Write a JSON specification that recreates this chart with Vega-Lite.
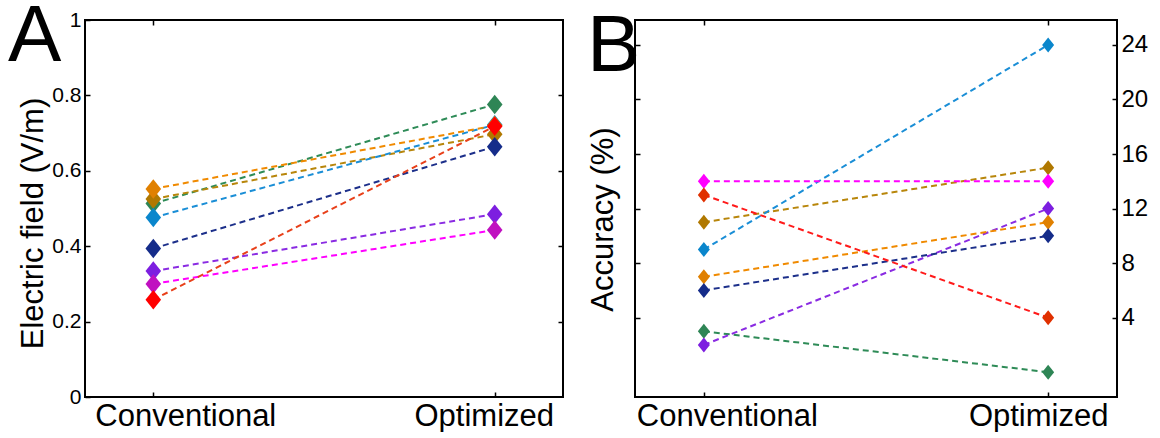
{
  "$schema": "https://vega.github.io/schema/vega-lite/v6.json",
  "background": "white",
  "padding": {"left": 7, "top": -4, "right": 0, "bottom": 0},
  "spacing": 21,
  "config": {
    "font": "Liberation Sans",
    "view": {"stroke": "black", "strokeWidth": 2},
    "axis": {
      "domain": false, "grid": false, "tickColor": "black", "tickWidth": 1.5, "tickSize": -5,
      "labelColor": "black", "titleColor": "black", "labelFont": "Liberation Sans",
      "titleFont": "Liberation Sans", "titleFontWeight": "normal", "labelFlush": false, "labelOverlap": false, "labelLimit": 400
    }
  },
  "datasets": {
    "a": [
      {"series": "S1", "condition": "Conventional", "value": 0.513},
      {"series": "S1", "condition": "Optimized", "value": 0.776},
      {"series": "S3", "condition": "Conventional", "value": 0.525},
      {"series": "S3", "condition": "Optimized", "value": 0.697},
      {"series": "S4", "condition": "Conventional", "value": 0.476},
      {"series": "S4", "condition": "Optimized", "value": 0.722},
      {"series": "S2", "condition": "Conventional", "value": 0.552},
      {"series": "S2", "condition": "Optimized", "value": 0.72},
      {"series": "S5", "condition": "Conventional", "value": 0.394},
      {"series": "S5", "condition": "Optimized", "value": 0.664},
      {"series": "S6", "condition": "Conventional", "value": 0.334},
      {"series": "S6", "condition": "Optimized", "value": 0.485},
      {"series": "S7", "condition": "Conventional", "value": 0.3},
      {"series": "S7", "condition": "Optimized", "value": 0.443},
      {"series": "S8", "condition": "Conventional", "value": 0.258},
      {"series": "S8", "condition": "Optimized", "value": 0.718}
    ],
    "b": [
      {"series": "S1", "condition": "Conventional", "value": 3},
      {"series": "S1", "condition": "Optimized", "value": 0},
      {"series": "S3", "condition": "Conventional", "value": 11},
      {"series": "S3", "condition": "Optimized", "value": 15},
      {"series": "S4", "condition": "Conventional", "value": 9},
      {"series": "S4", "condition": "Optimized", "value": 24},
      {"series": "S6", "condition": "Conventional", "value": 2},
      {"series": "S6", "condition": "Optimized", "value": 12},
      {"series": "S2", "condition": "Conventional", "value": 7},
      {"series": "S2", "condition": "Optimized", "value": 11},
      {"series": "S5", "condition": "Conventional", "value": 6},
      {"series": "S5", "condition": "Optimized", "value": 10},
      {"series": "S7", "condition": "Conventional", "value": 14},
      {"series": "S7", "condition": "Optimized", "value": 14},
      {"series": "S8", "condition": "Conventional", "value": 13},
      {"series": "S8", "condition": "Optimized", "value": 4}
    ]
  },
  "hconcat": [
    {
      "width": 478,
      "height": 377,
      "title": {"text": "A", "fontSize": 80, "fontWeight": "normal", "anchor": "start", "frame": "group", "baseline": "alphabetic", "offset": 0, "dx": -77, "dy": 132, "color": "black", "font": "Liberation Sans"},
      "data": {"name": "a"},
      "layer": [
        {
          "mark": {"type": "line", "strokeDash": [6, 4], "strokeWidth": 2},
          "encoding": {
            "x": {"field": "condition", "type": "ordinal", "scale": {"type": "point", "padding": 0.2, "domain": ["Conventional", "Optimized"]},
              "axis": {"orient": "bottom", "title": null, "labelAngle": 0, "labelFontSize": 31, "labelPadding": 9,
                "labelOffset": {"condition": {"test": "datum.value === 'Conventional'", "value": 32}, "value": -11}}},
            "y": {"field": "value", "type": "quantitative", "scale": {"domain": [0, 1], "nice": false, "zero": false},
              "axis": {"orient": "left", "values": [0, 0.2, 0.4, 0.6, 0.8, 1], "format": "~g", "labelFontSize": 21, "labelPadding": 9,
                "title": "Electric field (V/m)", "titleFontSize": 31, "titleAngle": 270, "titleX": -43, "titleY": 203, "titleBaseline": "alphabetic", "titleAlign": "center"}},
            "detail": {"field": "series"},
            "color": {"field": "series", "type": "nominal", "legend": null,
              "scale": {"domain": ["S1", "S2", "S3", "S4", "S5", "S6", "S7", "S8"],
                "range": ["#2e8b57", "#f08a00", "#b8860b", "#1a8ed6", "#1c2f8a", "#8a2be2", "#ff00ff", "#e8401a"]}}
          }
        },
        {
          "mark": {"type": "point", "shape": "M0,-1L0.8,0L0,1L-0.8,0Z", "filled": true, "size": 380, "opacity": 1},
          "encoding": {
            "x": {"field": "condition", "type": "ordinal", "axis": {"orient": "top", "labels": false, "title": null}},
            "y": {"field": "value", "type": "quantitative", "axis": {"orient": "right", "labels": false, "title": null, "values": [0.2, 0.4, 0.6, 0.8]}},
            "color": {"field": "series", "type": "nominal", "legend": null,
              "scale": {"domain": ["S1", "S2", "S3", "S4", "S5", "S6", "S7", "S8"],
                "range": ["#2e8555", "#e08000", "#b07800", "#0a86cc", "#152c8a", "#7d1ee0", "#c010c0", "#ff0000"]}}
          }
        }
      ],
      "resolve": {"scale": {"color": "independent"}, "axis": {"x": "independent", "y": "independent"}}
    },
    {
      "width": 482,
      "height": 377,
      "title": {"text": "B", "fontSize": 80, "fontWeight": "normal", "anchor": "start", "frame": "group", "baseline": "alphabetic", "offset": 0, "dx": -48, "dy": 132, "color": "black", "font": "Liberation Sans"},
      "data": {"name": "b"},
      "layer": [
        {
          "mark": {"type": "line", "strokeDash": [6, 4], "strokeWidth": 2},
          "encoding": {
            "x": {"field": "condition", "type": "ordinal", "scale": {"type": "point", "padding": 0.2, "domain": ["Conventional", "Optimized"]},
              "axis": {"orient": "bottom", "title": null, "labelAngle": 0, "labelFontSize": 31, "labelPadding": 9,
                "labelOffset": {"condition": {"test": "datum.value === 'Conventional'", "value": 23}, "value": -10}}},
            "y": {"field": "value", "type": "quantitative", "scale": {"domain": [-1.82, 25.83], "nice": false, "zero": false},
              "axis": {"orient": "left", "values": [4, 8, 12, 16, 20, 24], "labels": false,
                "title": "Accuracy (%)", "titleFontSize": 31, "titleAngle": 270, "titleX": -23, "titleY": 199, "titleBaseline": "alphabetic", "titleAlign": "center"}},
            "detail": {"field": "series"},
            "color": {"field": "series", "type": "nominal", "legend": null,
              "scale": {"domain": ["S1", "S2", "S3", "S4", "S5", "S6", "S7", "S8"],
                "range": ["#2e8b57", "#f08a00", "#b8860b", "#1a8ed6", "#1c2f8a", "#8a2be2", "#ff00ff", "#ff1a1a"]}}
          }
        },
        {
          "mark": {"type": "point", "shape": "M0,-1L0.8,0L0,1L-0.8,0Z", "filled": true, "size": 225, "opacity": 1},
          "encoding": {
            "x": {"field": "condition", "type": "ordinal", "axis": {"orient": "top", "labels": false, "title": null}},
            "y": {"field": "value", "type": "quantitative", "axis": {"orient": "right", "values": [4, 8, 12, 16, 20, 24], "labelFontSize": 24, "labelPadding": 9, "title": null}},
            "color": {"field": "series", "type": "nominal", "legend": null,
              "scale": {"domain": ["S1", "S2", "S3", "S4", "S5", "S6", "S7", "S8"],
                "range": ["#2e8555", "#e08000", "#b07800", "#0a86cc", "#152c8a", "#7d1ee0", "#ff00ff", "#e03000"]}}
          }
        }
      ],
      "resolve": {"scale": {"color": "independent"}, "axis": {"x": "independent", "y": "independent"}}
    }
  ]
}
